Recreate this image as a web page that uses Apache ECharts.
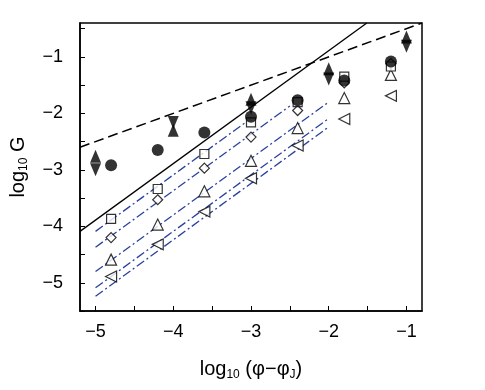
<!DOCTYPE html>
<html>
<head>
<meta charset="utf-8">
<script src="https://cdn.jsdelivr.net/npm/echarts@6/dist/echarts.min.js"></script>
<style>
  html, body { margin: 0; padding: 0; background: #fff; }
  #chart { width: 485px; height: 390px; }
</style>
</head>
<body>
<div id="chart"></div>
<script>
// x positions of the data columns, log10(phi - phiJ)
const xOpen = [-4.8, -4.2, -3.6, -3.0, -2.4, -1.8, -1.2];
const xFilled = [-5, -4, -3, -2, -1];

// filled symbols
const circleY = [-2.92, -2.65, -2.34, -2.06, -1.77, -1.42, -1.08];
const triUpY = [-2.76, -2.30, -1.75, -1.21, -0.65];
const triDownY = [-3.0, -2.16, -1.90, -1.39, -0.81];

// open symbols
const squareY = [-3.87, -3.34, -2.72, -2.16, -1.80, -1.35, -1.17];
const diamondY = [-4.20, -3.53, -2.97, -2.42, -1.95, -1.46, -1.12];
const openTriY = [-4.59, -3.97, -3.38, -2.84, -2.26, -1.73, -1.32];
const leftTriY = [-4.89, -4.32, -3.74, -3.15, -2.57, -2.10, -1.69];

// guide lines, end points
const solidLine = [[-5.2, -4.09], [-1.51, -0.4]];
const dashedLine = [[-5.2, -2.6], [-0.8, -0.4]];
const blueLines = [
  [[-5, -4.09], [-3.0, -2.09]],
  [[-5, -4.37], [-2.5, -1.87]],
  [[-5, -4.80], [-2.0, -1.80]],
  [[-5, -5.09], [-2.0, -2.09]],
  [[-5, -5.24], [-2.0, -2.24]],
];

const xTicks = [-5, -4.5, -4, -3.5, -3, -2.5, -2, -1.5, -1];
const xLabels = [-5, -4, -3, -2, -1];
const yTicks = [-5.5, -5, -4.5, -4, -3.5, -3, -2.5, -2, -1.5, -1, -0.5];
const yLabels = [-5, -4, -3, -2, -1];

const FONT = "Liberation Sans, Arial, sans-serif";
const minus = (v) => (v < 0 ? "\u2212" : "") + Math.abs(v);
const pair = (xs, ys) => xs.map((x, i) => [x, ys[i]]);

const openStyle = { color: "#fff", borderColor: "#000", borderWidth: 1.2 };
const fillStyle = { color: "#000" };

// rich text for axis titles with subscripts
const nameRich = {
  t: { fontSize: 20, fontFamily: FONT, color: "#000", lineHeight: 24 },
  s: { fontSize: 12, fontFamily: FONT, color: "#000", lineHeight: 11, verticalAlign: "bottom" },
};

const series = [];

series.push({
  type: "line", data: dashedLine, showSymbol: false, silent: true,
  lineStyle: { color: "#000", width: 1.5, type: [10, 5] }, z: 1,
});
series.push({
  type: "line", data: solidLine, showSymbol: false, silent: true,
  lineStyle: { color: "#000", width: 1.3 }, z: 1,
});
blueLines.forEach((seg) => {
  series.push({
    type: "line", data: seg, showSymbol: false, silent: true,
    lineStyle: { color: "#2a419e", width: 1.3, type: [9, 3, 2, 3] }, z: 1,
  });
});

series.push({ type: "scatter", data: pair(xOpen, leftTriY), symbol: "triangle", symbolRotate: 90, symbolSize: 11, itemStyle: openStyle, z: 2 });
series.push({ type: "scatter", data: pair(xOpen, openTriY), symbol: "triangle", symbolSize: 11, itemStyle: openStyle, z: 2 });
series.push({ type: "scatter", data: pair(xOpen, diamondY), symbol: "diamond", symbolSize: 10, itemStyle: openStyle, z: 2 });
series.push({ type: "scatter", data: pair(xOpen, squareY), symbol: "rect", symbolSize: 9, itemStyle: openStyle, z: 2 });
series.push({ type: "scatter", data: pair(xOpen, circleY), symbol: "circle", symbolSize: 12, itemStyle: fillStyle, z: 3 });
series.push({ type: "scatter", data: pair(xFilled, triUpY), symbol: "triangle", symbolSize: [11, 13], itemStyle: fillStyle, z: 3 });
series.push({ type: "scatter", data: pair(xFilled, triDownY), symbol: "triangle", symbolRotate: 180, symbolSize: [11, 13], itemStyle: fillStyle, z: 3 });

const chart = echarts.init(document.getElementById("chart"), null, { renderer: "canvas" });
chart.setOption({
  animation: false,
  backgroundColor: "#fff",
  grid: {
    left: 77, top: 23, right: 63, bottom: 79,
    show: true, borderColor: "#000", borderWidth: 1.5,
  },
  xAxis: {
    type: "value", min: -5.2, max: -0.8,
    splitLine: { show: false },
    axisLine: { lineStyle: { color: "#000", width: 1.5 } },
    axisTick: { inside: true, length: 5, customValues: xTicks, lineStyle: { color: "#000", width: 1 } },
    axisLabel: {
      customValues: xLabels, formatter: minus, margin: 12,
      color: "#000", fontSize: 18, fontFamily: FONT,
    },
    name: "{t|log}{s|10}{t| (\u03c6\u2212\u03c6}{s|J}{t|)}",
    nameLocation: "middle", nameGap: 46,
    nameTextStyle: { rich: nameRich },
  },
  yAxis: {
    type: "value", min: -5.5, max: -0.4,
    splitLine: { show: false },
    axisLine: { lineStyle: { color: "#000", width: 1.5 } },
    axisTick: { inside: true, length: 5, customValues: yTicks, lineStyle: { color: "#000", width: 1 } },
    axisLabel: {
      customValues: yLabels, formatter: minus, margin: 17,
      color: "#000", fontSize: 18, fontFamily: FONT,
    },
    name: "{t|log}{s|10}{t| G}",
    nameLocation: "middle", nameGap: 50, nameRotate: 90,
    nameTextStyle: { rich: nameRich },
  },
  series: series,
});
</script>
</body>
</html>
